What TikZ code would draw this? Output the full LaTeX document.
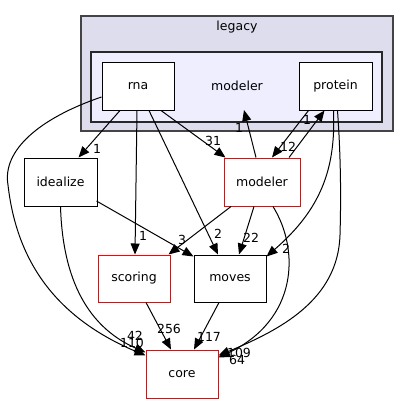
\documentclass[tikz,border=0pt]{standalone}
\usepackage{fontspec}
\setmainfont{DejaVu Sans}
\usetikzlibrary{arrows.meta}
\begin{document}
\begin{tikzpicture}[x=1pt,y=-1pt,
  box/.style={draw=black, fill=white, line width=1pt, inner sep=0pt,
    minimum width=72pt, minimum height=48pt, font=\fontsize{12.5}{14}\selectfont},
  redbox/.style={box, draw=red},
  edge/.style={draw=black, line width=1pt, -{Triangle[length=11pt,width=9pt]}},
  lbl/.style={inner sep=0pt, font=\fontsize{12.5}{14}\selectfont},
  ctext/.style={inner sep=0pt, font=\fontsize{12.5}{14}\selectfont}]
\useasboundingbox (0,0) rectangle (409,404);
% clusters
\draw[fill={rgb,255:red,221;green,221;blue,238}, draw={rgb,255:red,68;green,68;blue,68}, line width=1.3pt]
  (81,16) rectangle (393,131);
\node[ctext] (legacylbl) at (237,27) {legacy};
\node[draw={rgb,255:red,40;green,40;blue,40}, fill={rgb,255:red,238;green,238;blue,255}, line width=1.3pt,
  minimum width=291pt, minimum height=70pt, inner sep=0pt] (cl) at (236.5,87) {};
\node[ctext] (cllbl) at (237,86) {modeler};
\coordinate (cltip) at (244,110);
% nodes
\node[box] (rna) at (138,86) {rna};
\node[box, minimum width=73pt] (protein) at (335.5,86) {protein};
\node[box, minimum width=73pt] (idealize) at (60.5,182) {idealize};
\node[redbox, minimum width=76pt] (modeler) at (262,182) {modeler};
\node[redbox, minimum height=47pt] (scoring) at (134,278.5) {scoring};
\node[box, minimum height=47pt] (moves) at (230,278.5) {moves};
\node[redbox] (core) at (182,374) {core};
% labels
\node[lbl] (l1) at (97,149) {1};
\node[lbl] (l2) at (213,141) {31};
\node[lbl] (l3) at (239,128) {1};
\node[lbl] (l4) at (307,120) {1};
\node[lbl] (l5) at (288,147) {12};
\node[lbl] (l6) at (143,236) {1};
\node[lbl] (l7) at (182,240) {3};
\node[lbl] (l8) at (218,234) {2};
\node[lbl] (l9) at (251,238) {22};
\node[lbl] (l10) at (286,249) {2};
\node[lbl] (l11) at (169,329) {256};
\node[lbl] (l12) at (209,337) {117};
\node[lbl] (l13) at (135,336) {42};
\node[lbl] (l14) at (132,343) {110};
\node[lbl] (l15) at (239,353) {109};
\node[lbl] (l16) at (237,360) {64};
% edges
\draw[edge] ([xshift=-18pt]rna.south) -- ([xshift=18pt]idealize.north);
\draw[edge] ([xshift=-1pt]rna.south) -- ([xshift=1pt]scoring.north);
\draw[edge] ([xshift=11pt]rna.south) -- ([xshift=-12pt]moves.north);
\draw[edge] ([xshift=23pt]rna.south) -- ([xshift=2pt]modeler.north west);
\draw[edge] ([yshift=-11pt]rna.west) .. controls (40,118) and (2,150) .. (8,185)
  .. controls (16,255) and (50,315) .. ([yshift=-6pt]core.north west);
\draw[edge] ([xshift=36pt,yshift=-19pt]idealize.center) -- ([xshift=0pt,yshift=-2pt]moves.north west);
\draw[edge] (idealize.south) .. controls (63,290) and (95,330) .. ([yshift=-3pt]core.north west);
\draw[edge] ([xshift=-31pt]modeler.south) -- ([xshift=-2pt]scoring.north east);
\draw[edge] ([xshift=-8pt]modeler.south) -- ([xshift=9pt]moves.north);
\draw[edge] ([xshift=-6pt]modeler.north) -- (cltip);
\draw[edge] ([xshift=27pt]modeler.north) -- ([xshift=-11pt]protein.south);
\draw[edge] ([xshift=-27pt]protein.south) -- ([xshift=10pt]modeler.north);
\draw[edge] ([xshift=11pt]modeler.south) .. controls (300,250) and (298,320) .. ([yshift=-8pt]core.north east);
\draw[edge] ([xshift=-2pt]protein.south) .. controls (336,170) and (320,210) .. ([yshift=-2pt]moves.north east);
\draw[edge] ([xshift=2pt]protein.south) .. controls (341,160) and (341,200) .. (340,235)
  .. controls (338,300) and (280,330) .. ([yshift=-6pt]core.north east);
\draw[edge] ([xshift=12pt]scoring.south) -- ([xshift=-11pt]core.north);
\draw[edge] ([xshift=-11pt]moves.south) -- ([xshift=12pt]core.north);
\end{tikzpicture}
\end{document}
